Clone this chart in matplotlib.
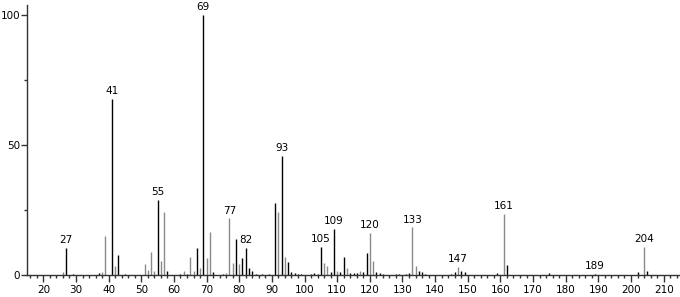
import matplotlib
matplotlib.use("Agg")
import matplotlib.pyplot as plt
from matplotlib.ticker import MultipleLocator

# m/z and relative intensity, black peaks
mz_black = [27, 29, 37, 41, 43, 45, 55, 58, 62, 64, 67, 69, 72, 75, 79, 81, 82, 83, 84, 85,
            87, 89, 91, 93, 95, 96, 97, 98, 99, 102, 103, 104, 105, 108, 109, 111, 112,
            114, 115, 116, 118, 119, 122, 123, 124, 128, 129, 131, 132, 135, 136, 137,
            145, 146, 148, 149, 159, 162, 175, 189, 202, 205]
int_black = [10.3, 0.5, 0.8, 67.7, 7.6, 0.5, 29.0, 1.5, 0.5, 0.5, 10.4, 100.0, 1.2, 0.5, 13.8, 6.4, 10.3, 2.6, 1.5, 0.5,
             0.4, 0.5, 27.8, 45.9, 4.9, 1.0, 0.8, 0.5, 0.5, 0.5, 0.8, 0.5, 10.9, 1.0, 17.8, 1.0, 6.9,
             0.8, 0.8, 0.8, 1.0, 8.3, 1.0, 0.8, 0.5, 0.5, 0.5, 0.5, 0.8, 1.5, 1.0, 0.5,
             0.5, 1.0, 1.7, 1.0, 0.8, 3.7, 0.8, 0.5, 1.0, 1.4]

# grey peaks
mz_grey = [26, 38, 39, 42, 51, 52, 53, 54, 56, 57, 63, 65, 66, 68, 70, 71, 76, 77, 78, 80,
           92, 94, 106, 107, 110, 113, 117, 120, 121, 133, 134, 147, 161, 204]
int_grey = [1.0, 1.2, 15.1, 3.5, 4.2, 1.8, 8.8, 1.7, 5.4, 24.2, 1.5, 6.8, 1.7, 2.7, 6.4, 16.4, 0.6, 21.8, 4.5, 4.1,
            24.4, 6.8, 4.7, 3.6, 1.5, 2.8, 1.5, 16.3, 5.4, 18.3, 3.5, 3.0, 23.6, 10.9]

labeled_mz = [27, 41, 55, 69, 77, 82, 93, 105, 109, 120, 133, 147, 161, 189, 204]

x_ticks = list(range(20, 211, 10))
y_ticks = [0, 50, 100]

fig = plt.figure(figsize=(6.8, 2.97), dpi=100)
ax = fig.add_axes([27/680, 22/297, 653/680, 270/297])

ax.vlines(mz_grey, 0, int_grey, colors="#8a8a8a", linewidth=1.0)
ax.vlines(mz_black, 0, int_black, colors="#000000", linewidth=1.0)

lookup = dict(zip(mz_black, int_black))
lookup.update(dict(zip(mz_grey, int_grey)))
for m in labeled_mz:
    ax.annotate(str(m), (m, lookup[m]), xytext=(0, 2), textcoords="offset points",
                ha="center", va="bottom", fontsize=7.5, color="black")

ax.set_xlim(15, 215)
ax.set_ylim(0, 103.8)
ax.set_xticks(x_ticks)
ax.set_yticks(y_ticks)
ax.xaxis.set_minor_locator(MultipleLocator(2))
ax.yaxis.set_minor_locator(MultipleLocator(25))

for s in ["top", "right"]:
    ax.spines[s].set_visible(False)
for s in ["left", "bottom"]:
    ax.spines[s].set_color("#333333")
    ax.spines[s].set_linewidth(1.0)

ax.tick_params(axis="x", which="major", direction="out", length=5, width=1, color="#333333",
               labelsize=7.5, pad=2)
ax.tick_params(axis="x", which="minor", direction="out", length=2.5, width=1, color="#333333")
ax.tick_params(axis="y", which="major", direction="out", length=4, width=1, color="#333333",
               labelsize=7.5, pad=1)
ax.tick_params(axis="y", which="minor", direction="out", length=2, width=1, color="#333333")

fig.savefig("out.png", dpi=100)
